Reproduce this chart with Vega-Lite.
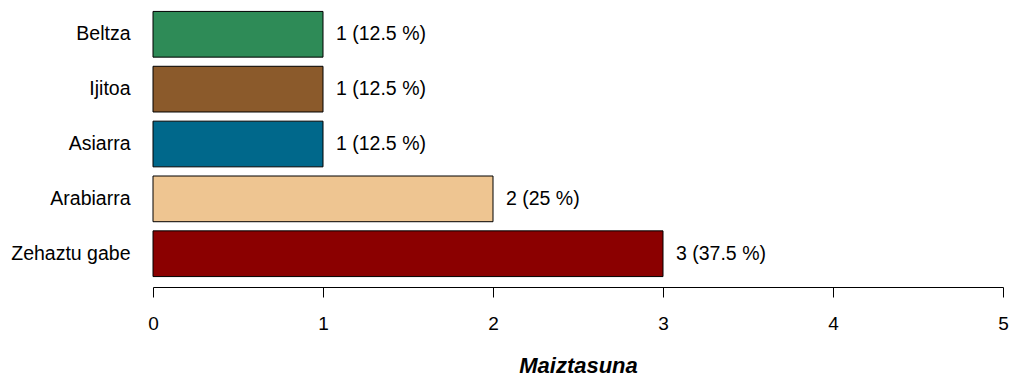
{
  "$schema": "https://vega.github.io/schema/vega-lite/v6.json",
  "autosize": {"type": "none"},
  "width": 850,
  "height": 286,
  "padding": {"left": 153, "top": 1, "right": 7, "bottom": 91},
  "background": "white",
  "config": {"view": {"stroke": null}, "font": "Liberation Sans"},
  "data": {"values": [
    {"kategoria": "Beltza", "n": 1, "etiketa": "1 (12.5 %)"},
    {"kategoria": "Ijitoa", "n": 1, "etiketa": "1 (12.5 %)"},
    {"kategoria": "Asiarra", "n": 1, "etiketa": "1 (12.5 %)"},
    {"kategoria": "Arabiarra", "n": 2, "etiketa": "2 (25 %)"},
    {"kategoria": "Zehaztu gabe", "n": 3, "etiketa": "3 (37.5 %)"}
  ]},
  "encoding": {
    "y": {
      "field": "kategoria", "type": "nominal",
      "sort": ["Beltza", "Ijitoa", "Asiarra", "Arabiarra", "Zehaztu gabe"],
      "scale": {"paddingInner": 0.1667, "paddingOuter": 0.19},
      "axis": {"title": null, "domain": false, "ticks": false, "labelPadding": 23, "labelFontSize": 19.5, "labelColor": "black", "labelFont": "Liberation Sans", "labelLimit": 300}
    },
    "x": {
      "field": "n", "type": "quantitative",
      "scale": {"domain": [0, 5], "nice": false, "zero": true},
      "axis": {
        "title": "Maiztasuna", "titleFontSize": 22, "titleFontWeight": "bold", "titleFontStyle": "italic",
        "titleColor": "black", "titlePadding": 22, "titleFont": "Liberation Sans",
        "values": [0, 1, 2, 3, 4, 5], "format": "d", "grid": false, "labelFlush": false,
        "domainColor": "black", "tickColor": "black", "tickSize": 10,
        "labelFontSize": 19, "labelColor": "black", "labelPadding": 17, "labelFont": "Liberation Sans"
      }
    }
  },
  "layer": [
    {
      "mark": {"type": "bar", "stroke": "black", "strokeWidth": 1},
      "encoding": {
        "color": {
          "field": "kategoria", "type": "nominal", "legend": null,
          "scale": {
            "domain": ["Beltza", "Ijitoa", "Asiarra", "Arabiarra", "Zehaztu gabe"],
            "range": ["#2E8B57", "#8B5A2B", "#00688B", "#EEC591", "#8B0000"]
          }
        }
      }
    },
    {
      "mark": {"type": "text", "align": "left", "baseline": "middle", "dx": 13, "fontSize": 19.5, "color": "black", "font": "Liberation Sans"},
      "encoding": {"text": {"field": "etiketa"}}
    }
  ]
}
